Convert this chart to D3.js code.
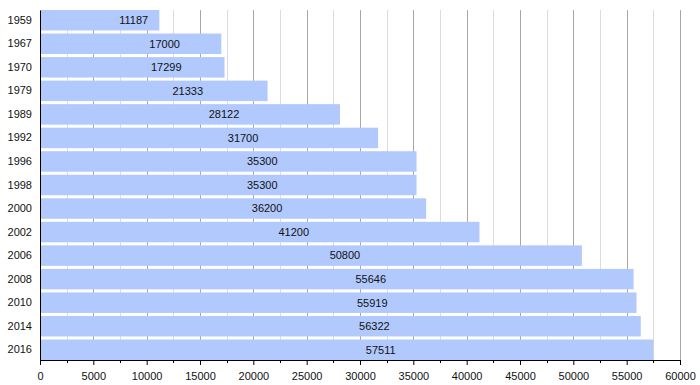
<html>
<head>
<meta charset="utf-8">
<script src="https://cdn.jsdelivr.net/npm/d3@7"></script>
<style>
  body { margin: 0; background: #fff; }
  text { font-family: "Liberation Sans", Arial, sans-serif; }
</style>
</head>
<body>
<script>
var years = ["1959","1967","1970","1979","1989","1992","1996","1998","2000","2002","2006","2008","2010","2014","2016"]
var population = [11187,17000,17299,21333,28122,31700,35300,35300,36200,41200,50800,55646,55919,56322,57511]
var majorTicks = d3.range(0, 60001, 5000)
var minorTicks = d3.range(2500, 60000, 5000)

var width = 700, height = 385
var plotLeft = 40, plotRight = 680, plotTop = 10, plotBottom = 360

var svg = d3.select("body").append("svg")
  .attr("width", width)
  .attr("height", height)

var x = d3.scaleLinear().domain([0, 60000]).range([plotLeft, plotRight])
var y = d3.scaleBand().domain(years).range([plotTop, plotBottom]).paddingInner(0.13).paddingOuter(0)

// grid
svg.append("g").selectAll("line")
  .data(minorTicks).enter().append("line")
  .attr("x1", d => Math.round(x(d)) + 0.5).attr("x2", d => Math.round(x(d)) + 0.5)
  .attr("y1", plotTop).attr("y2", plotBottom)
  .attr("stroke", "#dcdcdc")

svg.append("g").selectAll("line")
  .data(majorTicks.slice(1)).enter().append("line")
  .attr("x1", d => Math.round(x(d)) + 0.5).attr("x2", d => Math.round(x(d)) + 0.5)
  .attr("y1", plotTop).attr("y2", plotBottom)
  .attr("stroke", "#a8a8a8")

// bars
svg.append("g").selectAll("rect")
  .data(population).enter().append("rect")
  .attr("x", plotLeft)
  .attr("y", (d, i) => y(years[i]))
  .attr("width", d => x(d) - plotLeft)
  .attr("height", y.bandwidth())
  .attr("fill", "#b2c9fd")

svg.append("g").selectAll("text")
  .data(population).enter().append("text")
  .attr("x", d => x(d / 2) + 34)
  .attr("y", (d, i) => y(years[i]) + y.bandwidth() / 2)
  .attr("dy", "0.35em")
  .attr("text-anchor", "middle")
  .attr("font-size", 11)
  .attr("fill", "#111")
  .text(d => d)

// axes
var xAxis = d3.axisBottom(x).tickValues(majorTicks).tickSize(5).tickFormat(d => d)
var gx = svg.append("g").attr("transform", "translate(0," + plotBottom + ")").call(xAxis)
gx.select(".domain").attr("stroke", "#000")
gx.selectAll("text").attr("font-size", 11).attr("fill", "#111").attr("dy", "1.1em")
  .style("font-family", "Liberation Sans, Arial, sans-serif")

gx.selectAll(".minor").data(minorTicks).enter().append("line")
  .attr("x1", d => Math.round(x(d)) + 0.5).attr("x2", d => Math.round(x(d)) + 0.5)
  .attr("y1", 0).attr("y2", 3)
  .attr("stroke", "#000")

var yAxis = d3.axisLeft(y).tickSize(0).tickPadding(8)
var gy = svg.append("g").attr("transform", "translate(" + plotLeft + ",0)").call(yAxis)
gy.select(".domain").attr("stroke", "#000")
gy.selectAll("text").attr("font-size", 11).attr("fill", "#111")
  .style("font-family", "Liberation Sans, Arial, sans-serif")
</script>
</body>
</html>
